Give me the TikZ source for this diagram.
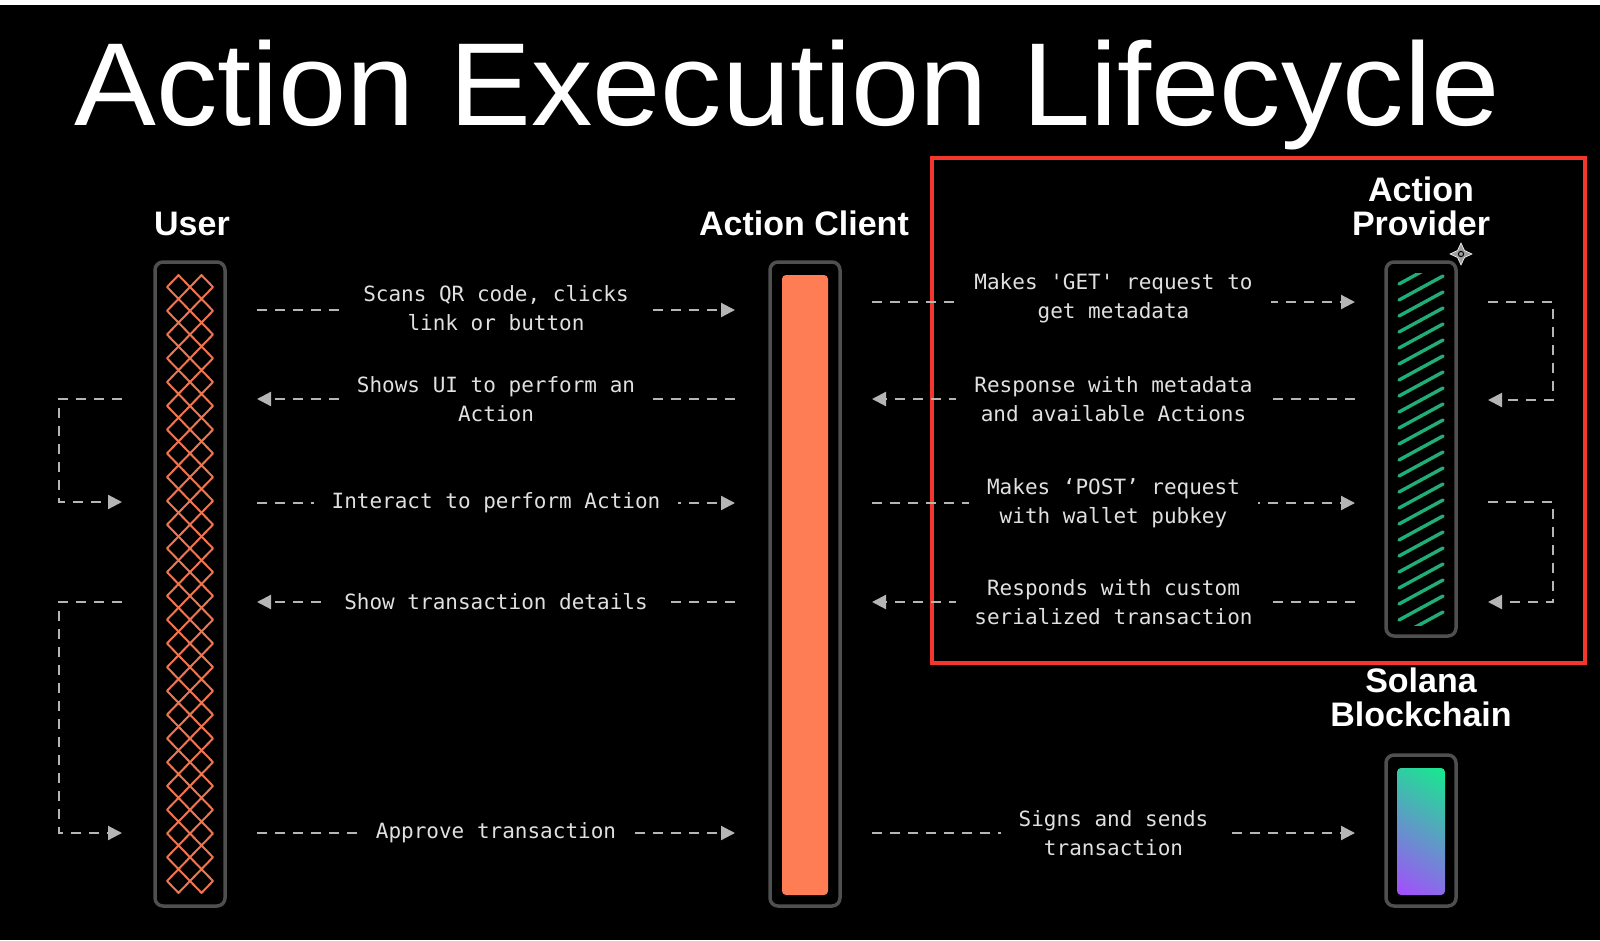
\documentclass[tikz,border=0pt]{standalone}
\usepackage{fontspec}
\setmainfont{Liberation Sans}
\newfontfamily\titlefont[FakeStretch=1.04]{Liberation Sans}
\newfontfamily\monofont{DejaVu Sans Mono}
\usepackage{tikz}
\usetikzlibrary{arrows.meta}
\usepackage{xcolor}

\definecolor{barorange}{HTML}{FF7D55}
\definecolor{latticeorange}{HTML}{F0744E}
\definecolor{stripegreen}{HTML}{1FAE78}
\definecolor{framegray}{HTML}{4F4F4F}
\definecolor{flowgray}{HTML}{B5B5B5}
\definecolor{textgray}{HTML}{E0E0E0}
\definecolor{boxred}{HTML}{F4362C}
\definecolor{solgreen}{HTML}{14EC8C}
\definecolor{solblue}{HTML}{5E9CF2}
\definecolor{solpurple}{HTML}{A64BFF}

\begin{document}
\begin{tikzpicture}[x=1pt,y=-1pt,
    frame/.style={draw=framegray,line width=3.5pt,rounded corners=8pt,inner sep=0pt,minimum width=70pt},
    header/.style={text=white,font=\bfseries\fontsize{34}{34}\selectfont,align=center},
    msg/.style={text=textgray,fill=black,font=\monofont\fontsize{21}{29}\selectfont,align=center,inner xsep=18pt,inner ysep=4pt},
    flow/.style={draw=flowgray,line width=2.2pt,dash pattern=on 10pt off 8pt,-{Triangle[length=14pt,width=14pt]}},
    lattice/.style={draw=latticeorange,line width=2pt,line join=round},
    stripe/.style={draw=stripegreen,line width=3.4pt,line cap=round}]
        \fill[black] (0,0) rectangle (1600,940);
        \fill[white] (0,0) rectangle (1600,5);
        \useasboundingbox (0,0) rectangle (1600,940);

        % title and column heads
        \node[anchor=base,text=white,font=\titlefont\fontsize{118}{118}\selectfont] (title) at (787,125) {Action Execution Lifecycle};
        \node[header,anchor=base] (userhead) at (192,235) {User};
        \node[header,anchor=base] (clienthead) at (804,235) {Action Client};
        \node[header] (providerhead) at (1421,206) {Action\\Provider};
        \node[header] (chainhead) at (1421,697) {Solana\\Blockchain};

        % bars
        \node[frame,minimum height=644pt] (user) at (190,584) {};
        \node[frame,minimum height=644pt] (client) at (805,584) {};
        \node[frame,minimum height=374pt] (provider) at (1421,449) {};
        \node[frame,minimum height=151pt] (chain) at (1421,830.5) {};

        \foreach \cx in {178.5,201.5}{
          \foreach \k in {0,...,25}{
            \pgfmathsetmacro\cy{287+\k*23.76}
            \draw[lattice] (\cx-11.5,\cy) -- (\cx,\cy-11.88) -- (\cx+11.5,\cy) -- (\cx,\cy+11.88) -- cycle;
          }
        }
        \fill[barorange,rounded corners=4pt] (782,275) rectangle (828,895);
        \begin{scope}
          \clip (1397,273) rectangle (1445,625);
          \foreach \k in {-2,...,22}
            \draw[stripe] (1399,300+16*\k) -- (1443,276+16*\k);
        \end{scope}
        \begin{scope}
          \clip[rounded corners=4pt] (1397,768) rectangle (1445,895);
          \shade[top color=solgreen,middle color=solblue,bottom color=solpurple,shading angle=-32] (1353,763.5) rectangle (1489,899.5);
        \end{scope}

        % highlight and cursor
        \draw[boxred,line width=4pt] (932,158) rectangle (1585,663);
        \fill[gray!75,draw=white,line width=0.6pt] (1461,243) -- (1464.5,250.5) -- (1472,254) -- (1464.5,257.5) -- (1461,265) -- (1457.5,257.5) -- (1450,254) -- (1457.5,250.5) -- cycle;
        \draw[black,line width=1pt] (1461,254) circle (2.6pt);

        % message ends
        \coordinate (ua1) at (257,310); \coordinate (ca1) at (735,310);
        \coordinate (cb1) at (872,302); \coordinate (pa1) at (1355,302);
        \coordinate (ua2) at (257,399); \coordinate (ca2) at (735,399);
        \coordinate (cb2) at (872,399); \coordinate (pa2) at (1355,399);
        \coordinate (ua3) at (257,503); \coordinate (ca3) at (735,503);
        \coordinate (cb3) at (872,503); \coordinate (pa3) at (1355,503);
        \coordinate (ua4) at (257,602); \coordinate (ca4) at (735,602);
        \coordinate (cb4) at (872,602); \coordinate (pa4) at (1355,602);
        \coordinate (ua5) at (257,833); \coordinate (ca5) at (735,833);
        \coordinate (cb5) at (872,833); \coordinate (sa5) at (1355,833);

        \draw[flow] (ua1) -- node[msg,yshift=2pt] (scan) {Scans QR code, clicks\\link or button} (ca1);
        \draw[flow] (cb1) -- node[msg,yshift=4pt] (getreq) {Makes 'GET' request to\\get metadata} (pa1);
        \draw[flow] (ca2) -- node[msg] (showui) {Shows UI to perform an\\Action} (ua2);
        \draw[flow] (pa2) -- node[msg] (meta) {Response with metadata\\and available Actions} (cb2);
        \draw[flow] (ua3) -- node[msg] (interact) {Interact to perform Action} (ca3);
        \draw[flow] (cb3) -- node[msg] (postreq) {Makes ‘POST’ request\\with wallet pubkey} (pa3);
        \draw[flow] (ca4) -- node[msg] (details) {Show transaction details} (ua4);
        \draw[flow] (pa4) -- node[msg] (serial) {Responds with custom\\serialized transaction} (cb4);
        \draw[flow] (ua5) -- node[msg] (approve) {Approve transaction} (ca5);
        \draw[flow] (cb5) -- node[msg] (signs) {Signs and sends\\transaction} (sa5);

        % side loops
        \coordinate (ul1) at (122,399); \coordinate (ul2) at (122,502);
        \coordinate (ul3) at (122,602); \coordinate (ul4) at (122,833);
        \coordinate (pl1) at (1488,302); \coordinate (pl2) at (1488,400);
        \coordinate (pl3) at (1488,502); \coordinate (pl4) at (1488,602);
        \draw[flow] (ul1) -- ++(-63,0) |- (ul2);
        \draw[flow] (ul3) -- ++(-63,0) |- (ul4);
        \draw[flow] (pl1) -- ++(65,0) |- (pl2);
        \draw[flow] (pl3) -- ++(65,0) |- (pl4);
\end{tikzpicture}
\end{document}
